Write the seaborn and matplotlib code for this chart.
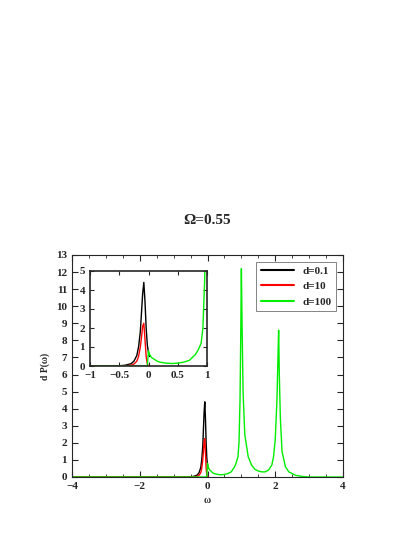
import numpy as np
import pandas as pd
import matplotlib
matplotlib.use("Agg")
import matplotlib.pyplot as plt
import seaborn as sns
from matplotlib.ticker import MultipleLocator, FuncFormatter

# negative-frequency part, one per series
neg_w = [-4.0, -1.0, -0.5, -0.4, -0.3, -0.25, -0.2, -0.17, -0.14, -0.12, -0.1, -0.08, -0.06, -0.04, -0.02, 0.0, 0.02]
neg_black = [0, 0, 0.01, 0.04, 0.12, 0.25, 0.55, 1.0, 1.8, 2.8, 3.8, 4.4, 3.4, 2.0, 1.1, 0.7, 0.5]
neg_red = [0, 0, 0, 0.01, 0.04, 0.1, 0.25, 0.5, 1.0, 1.5, 2.1, 2.25, 1.4, 0.5, 0.1, 0, 0]
neg_green = [0, 0, 0, 0, 0, 0, 0, 0, 0, 0, 0, 0, 0, 0, 0, 0.8, 0.6]

# positive part, common to all d (only visible as d=100 on top)
pos_w = [0.05, 0.1, 0.15, 0.2, 0.3, 0.4, 0.5, 0.6, 0.7, 0.8, 0.85, 0.9, 0.93, 0.96, 0.98,
         1.0, 1.02, 1.05, 1.1, 1.2, 1.3, 1.4, 1.5, 1.6, 1.7, 1.8, 1.9, 1.95, 2.0, 2.05, 2.08,
         2.1, 2.12, 2.15, 2.2, 2.3, 2.4, 2.6, 2.8, 3.0, 4.0]
pos_p = [0.45, 0.35, 0.25, 0.2, 0.15, 0.13, 0.15, 0.2, 0.3, 0.6, 0.85, 1.2, 2.0, 4.5, 8,
         12.2, 9, 5, 2.5, 1.2, 0.7, 0.45, 0.35, 0.3, 0.3, 0.4, 0.7, 1.2, 2.2, 4.5, 7,
         8.6, 6, 3.5, 1.5, 0.6, 0.3, 0.1, 0.03, 0, 0]

labels = ["d=0.1", "d=10", "d=100"]
colors = ["black", "red", "#00ee00"]

frames = [
    pd.DataFrame({"w": neg_w, "p": neg_black, "d": labels[0]}),
    pd.DataFrame({"w": neg_w, "p": neg_red, "d": labels[1]}),
    pd.DataFrame({"w": neg_w + pos_w, "p": neg_green + pos_p, "d": labels[2]}),
]
df = pd.concat(frames, ignore_index=True)

sns.set_style("ticks")
plt.rcParams["font.family"] = ["Liberation Serif", "DejaVu Serif"]
plt.rcParams["font.weight"] = "bold"

fmt = FuncFormatter(lambda v, _: ("%g" % v).replace("-", "\u2212"))

fig = plt.figure(figsize=(4.15, 5.37), dpi=100)
ax = fig.add_axes([72 / 415, 1 - 477 / 537, 271 / 415, 222 / 537])
sns.lineplot(data=df, x="w", y="p", hue="d", palette=colors, lw=1, ax=ax, sort=False)
ax.set_xlim(-4, 4)
ax.set_ylim(0, 13)
ax.xaxis.set_major_locator(MultipleLocator(2))
ax.xaxis.set_minor_locator(MultipleLocator(0.5))
ax.yaxis.set_major_locator(MultipleLocator(1))
ax.tick_params(which="both", direction="in", top=True, right=True, labelsize=8)
ax.tick_params(which="major", length=4)
ax.tick_params(which="minor", length=2)
ax.set_xlabel("ω", fontsize=7, fontweight="bold")
ax.set_ylabel("d P(ω)", fontsize=7, fontweight="bold")
ax.set_title("Ω=0.55", fontsize=11, fontweight="bold", pad=22)
leg = ax.legend(loc="upper right", fontsize=8, frameon=True, fancybox=False,
                edgecolor="0.3", handlelength=3, borderaxespad=0.6)
leg.get_frame().set_linewidth(0.6)
for h in leg.get_lines():
    h.set_linewidth(1.5)

ins = fig.add_axes([90 / 415, 1 - 366 / 537, 117 / 415, 95 / 537])
sns.lineplot(data=df, x="w", y="p", hue="d", palette=colors, lw=1, ax=ins, sort=False, legend=False)
ins.set_xlim(-1, 1)
ins.set_ylim(0, 5)
ins.xaxis.set_major_locator(MultipleLocator(0.5))
ins.yaxis.set_major_locator(MultipleLocator(1))
ins.xaxis.set_major_formatter(fmt)
ins.tick_params(direction="in", top=True, right=True, labelsize=8, length=3)
ins.set_xlabel("")
ins.set_ylabel("")
for s in ins.spines.values():
    s.set_linewidth(1.2)

fig.savefig("out.png", dpi=100)
